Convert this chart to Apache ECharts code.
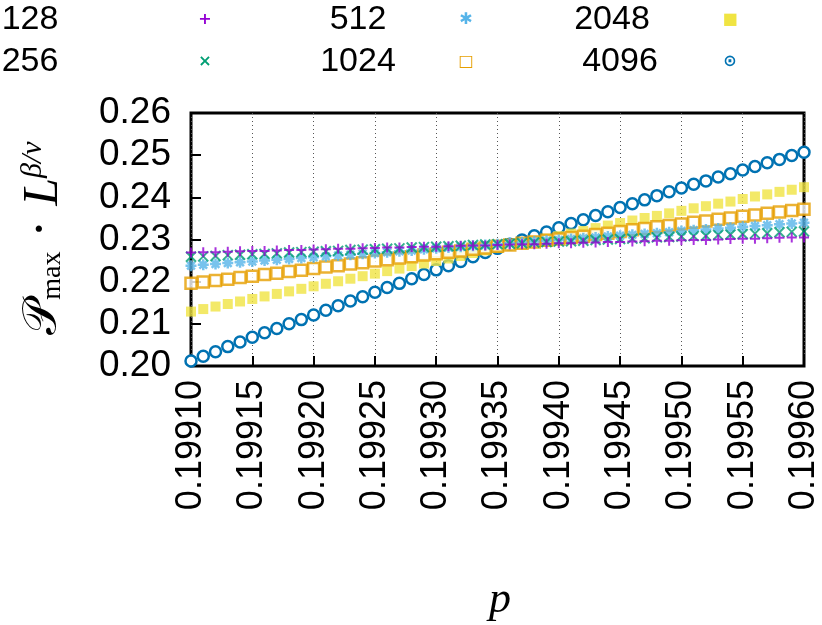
<!DOCTYPE html>
<html>
<head>
<meta charset="utf-8">
<script src="https://cdn.jsdelivr.net/npm/echarts@6/dist/echarts.min.js"></script>
<style>html,body{margin:0;padding:0;background:#fff}#chart{width:822px;height:625px}</style>
</head>
<body>
<div id="chart"></div>
<script>
var pValues = [];
for (var i = 0; i <= 50; i++) pValues.push(+(0.1991 + i * 0.00001).toFixed(5));

var s128 = [0.2269,0.2270,0.2270,0.2271,0.2272,0.2273,0.2273,0.2274,0.2275,0.2275,0.2276,0.2277,0.2278,0.2278,0.2279,0.2280,0.2281,0.2281,0.2282,0.2283,0.2283,0.2284,0.2285,0.2286,0.2286,0.2287,0.2288,0.2289,0.2289,0.2290,0.2291,0.2291,0.2292,0.2293,0.2294,0.2294,0.2295,0.2296,0.2297,0.2297,0.2298,0.2299,0.2299,0.2300,0.2301,0.2302,0.2302,0.2303,0.2304,0.2305,0.2305];
var s256 = [0.2259,0.2260,0.2261,0.2263,0.2264,0.2265,0.2266,0.2267,0.2269,0.2270,0.2271,0.2272,0.2273,0.2275,0.2276,0.2277,0.2278,0.2279,0.2281,0.2282,0.2283,0.2284,0.2285,0.2287,0.2288,0.2289,0.2290,0.2291,0.2293,0.2294,0.2295,0.2296,0.2297,0.2299,0.2300,0.2301,0.2302,0.2303,0.2305,0.2306,0.2307,0.2308,0.2309,0.2311,0.2312,0.2313,0.2314,0.2315,0.2317,0.2318,0.2319];
var s512 = [0.2238,0.2240,0.2242,0.2244,0.2246,0.2248,0.2250,0.2252,0.2254,0.2256,0.2258,0.2260,0.2262,0.2264,0.2266,0.2268,0.2270,0.2272,0.2274,0.2277,0.2279,0.2281,0.2283,0.2285,0.2287,0.2289,0.2291,0.2293,0.2295,0.2297,0.2299,0.2301,0.2303,0.2305,0.2307,0.2309,0.2311,0.2313,0.2315,0.2317,0.2320,0.2322,0.2324,0.2326,0.2328,0.2330,0.2332,0.2334,0.2336,0.2338,0.2340];
var s1024 = [0.2196,0.2199,0.2203,0.2206,0.2210,0.2213,0.2217,0.2220,0.2224,0.2227,0.2231,0.2235,0.2238,0.2242,0.2245,0.2249,0.2252,0.2256,0.2259,0.2263,0.2266,0.2270,0.2273,0.2277,0.2280,0.2284,0.2287,0.2291,0.2294,0.2298,0.2301,0.2305,0.2308,0.2312,0.2315,0.2319,0.2323,0.2326,0.2330,0.2333,0.2337,0.2341,0.2344,0.2348,0.2351,0.2355,0.2358,0.2362,0.2365,0.2369,0.2372];
var s2048 = [0.2129,0.2135,0.2141,0.2147,0.2153,0.2159,0.2165,0.2171,0.2177,0.2183,0.2189,0.2195,0.2201,0.2207,0.2213,0.2219,0.2225,0.2231,0.2237,0.2243,0.2249,0.2255,0.2261,0.2268,0.2274,0.2280,0.2286,0.2291,0.2297,0.2302,0.2308,0.2314,0.2320,0.2327,0.2333,0.2339,0.2345,0.2351,0.2356,0.2362,0.2368,0.2374,0.2379,0.2385,0.2390,0.2396,0.2402,0.2407,0.2413,0.2418,0.2424];
var s4096 = [0.2012,0.2023,0.2034,0.2046,0.2057,0.2068,0.2079,0.2089,0.2100,0.2110,0.2121,0.2132,0.2143,0.2154,0.2164,0.2175,0.2186,0.2196,0.2207,0.2217,0.2228,0.2238,0.2248,0.2259,0.2269,0.2279,0.2289,0.2299,0.2309,0.2318,0.2328,0.2338,0.2347,0.2357,0.2366,0.2376,0.2385,0.2394,0.2404,0.2413,0.2422,0.2431,0.2439,0.2448,0.2456,0.2465,0.2473,0.2482,0.2490,0.2499,0.2507];

var seriesNames = ['128', '256', '512', '1024', '2048', '4096'];
var seriesColors = ['#9400d3', '#009e73', '#56b4e9', '#e69f00', '#f0e442', '#0072b2'];

var plusPath = 'path://M5 0L5 10M0 5L10 5';
var crossPath = 'path://M0 0L10 10M10 0L0 10';
var starPath = 'path://M5 0L5 10M0 5L10 5M1.5 1.5L8.5 8.5M8.5 1.5L1.5 8.5';

function pairs(arr) {
  return arr.map(function (v, i) { return [pValues[i], v]; });
}

function mk(name, data, symbol, size, style) {
  return {
    name: name, type: 'scatter', data: pairs(data),
    symbol: symbol, symbolSize: size, itemStyle: style, silent: true
  };
}

var font = 'Liberation Sans';
var chart = echarts.init(document.getElementById('chart'));

var legendItems = [
  { t: '128', x: 30, y: 20, sx: 205, sym: '+', c: seriesColors[0] },
  { t: '512', x: 358, y: 20, sx: 466, sym: '✱', c: seriesColors[2] },
  { t: '2048', x: 612, y: 20, sx: 730, sym: '■', c: seriesColors[4] },
  { t: '256', x: 30, y: 62, sx: 205, sym: '×', c: seriesColors[1] },
  { t: '1024', x: 358, y: 62, sx: 466, sym: '□', c: seriesColors[3] },
  { t: '4096', x: 620, y: 62, sx: 730, sym: '⊙', c: seriesColors[5] }
];
var graphics = [];
legendItems.forEach(function (it) {
  graphics.push({ type: 'text', x: it.x, y: it.y, style: { text: it.t, font: '34px ' + font, fill: '#000', align: 'center', verticalAlign: 'middle' } });
  graphics.push({ type: 'text', x: it.sx, y: it.y, style: { text: it.sym, font: 'bold 16px DejaVu Sans', fill: it.c, align: 'center', verticalAlign: 'middle' } });
});
graphics.push({
  type: 'text', x: 44, y: 238, rotation: Math.PI / 2,
  style: {
    text: '{m|𝒫}{s|max}{m| · }{i|L}{sup|β/ν}',
    align: 'center', verticalAlign: 'middle',
    rich: {
      m: { font: '48px DejaVu Serif', fill: '#000' },
      s: { font: '28px Liberation Serif', fill: '#000', padding: [18, 0, 0, 0] },
      i: { font: 'italic 50px Liberation Serif', fill: '#000' },
      sup: { font: 'italic 30px Liberation Serif', fill: '#000', padding: [0, 0, 22, 0] }
    }
  }
});
graphics.push({ type: 'text', x: 500, y: 600, style: { text: 'p', font: 'italic 44px Liberation Serif', fill: '#000', align: 'center', verticalAlign: 'middle' } });

chart.setOption({
  animation: false,
  grid: { left: 191, right: 14, top: 113, bottom: 259, show: true, borderColor: '#000', borderWidth: 3 },
  xAxis: {
    type: 'value', min: 0.1991, max: 0.1996, interval: 0.00005,
    axisLine: { show: false },
    axisTick: { inside: true, length: 10, lineStyle: { color: '#000', width: 2 } },
    splitLine: { show: true, lineStyle: { color: '#555', type: [1, 3], width: 1 } },
    axisLabel: {
      rotate: 90, margin: 14, fontFamily: font, fontSize: 36, color: '#000',
      formatter: function (v) { return v.toFixed(5); }
    }
  },
  yAxis: {
    type: 'value', min: 0.20, max: 0.26, interval: 0.01,
    axisLine: { show: false },
    axisTick: { show: true, inside: true, length: 10, lineStyle: { color: '#000', width: 2 } },
    splitLine: { show: false },
    axisLabel: {
      margin: 20, fontFamily: font, fontSize: 37, color: '#000',
      formatter: function (v) { return v.toFixed(2); }
    }
  },
  graphic: graphics,
  series: [
    mk('4096', s4096, 'circle', 11, { color: '#fff', borderColor: seriesColors[5], borderWidth: 2.5, opacity: 1 }),
    mk('2048', s2048, 'rect', 10, { color: seriesColors[4] }),
    mk('1024', s1024, 'rect', 11, { color: '#fff', borderColor: seriesColors[3], borderWidth: 2.5 }),
    mk('512', s512, starPath, 11, { color: 'none', borderColor: seriesColors[2], borderWidth: 2.5 }),
    mk('256', s256, crossPath, 10, { color: 'none', borderColor: seriesColors[1], borderWidth: 2 }),
    mk('128', s128, plusPath, 10, { color: 'none', borderColor: seriesColors[0], borderWidth: 2 })
  ]
});
</script>
</body>
</html>
